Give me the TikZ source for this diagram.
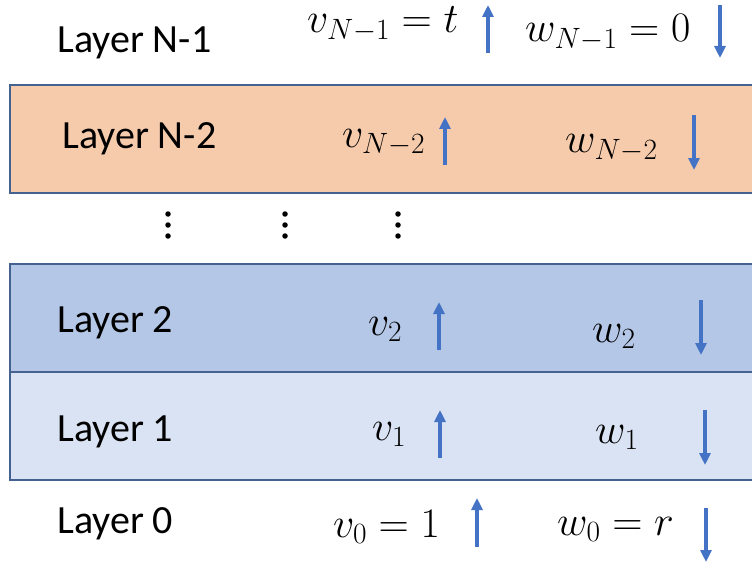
\documentclass[tikz,border=0pt]{standalone}
\usepackage{fix-cm}
\usepackage[no-math]{fontspec}
\setmainfont{Carlito}
\usetikzlibrary{arrows.meta}
\definecolor{boxline}{HTML}{44618F}
\definecolor{orangefill}{HTML}{F6CBAC}
\definecolor{bluefill}{HTML}{B4C7E7}
\definecolor{lightfill}{HTML}{DAE3F3}
\definecolor{arrowblue}{HTML}{4472C4}
\tikzset{
  layerbox/.style={draw=boxline, line width=2pt},
  lbl/.style={inner sep=0pt, anchor=base west, font=\fontsize{40}{48}\selectfont},
  mth/.style={inner sep=0pt, anchor=base west, font=\fontsize{42}{50}\selectfont},
  flow/.style={draw=arrowblue, line width=3.5pt, -{Triangle[width=11pt,length=12pt]}},
  dotmark/.style={fill=black, circle, inner sep=0pt, minimum size=5.5pt},
}
\begin{document}
\begin{tikzpicture}[x=1pt,y=-1pt]
\useasboundingbox (0,0) rectangle (752,567);
\clip (0,0) rectangle (752,567);
% boxes
\path[layerbox, fill=orangefill] (10,85) rectangle (770,193);
\path[layerbox, fill=bluefill] (10,264) rectangle (770,372);
\path[layerbox, fill=lightfill] (10,372) rectangle (770,480);
% layer labels
\node[lbl] (l5) at (57,53) {Layer N-1};
\node[lbl] (l4) at (62,148) {Layer N-2};
\node[lbl] (l2) at (57,332) {Layer 2};
\node[lbl] (l1) at (57,441) {Layer 1};
\node[lbl] (l0) at (57,533) {Layer 0};
% math labels
\node[mth] (v5) at (307,33) {$v_{N-1}=t$};
\node[mth] (w5) at (525,42) {$w_{N-1}=0$};
\node[mth] (v4) at (342,147) {$v_{N-2}$};
\node[mth] (w4) at (565,153) {$w_{N-2}$};
\node[mth] (v2) at (368,335) {$v_2$};
\node[mth] (w2) at (592,342) {$w_2$};
\node[mth] (v1) at (372,440) {$v_1$};
\node[mth] (w1) at (595,443) {$w_1$};
\node[mth] (v0) at (333,537) {$v_0=1$};
\node[mth] (w0) at (557,535) {$w_0=r$};
% dots
\foreach \x/\n in {168/a,285/b,398/c}{
  \node[dotmark] (d\n1) at (\x,214) {};
  \node[dotmark] (d\n2) at (\x,225) {};
  \node[dotmark] (d\n3) at (\x,236) {};
}
% arrows
\coordinate (ua5) at (488,53); \coordinate (ub5) at (488,5);
\coordinate (ua4) at (445,165); \coordinate (ub4) at (445,117);
\coordinate (ua2) at (439,350); \coordinate (ub2) at (439,302);
\coordinate (ua1) at (440,458); \coordinate (ub1) at (440,410);
\coordinate (ua0) at (477,547); \coordinate (ub0) at (477,498);
\coordinate (da5) at (720,5); \coordinate (db5) at (720,58);
\coordinate (da4) at (694,115); \coordinate (db4) at (694,170);
\coordinate (da2) at (701,300); \coordinate (db2) at (701,355);
\coordinate (da1) at (705,410); \coordinate (db1) at (705,465);
\coordinate (da0) at (706,508); \coordinate (db0) at (706,562);
\foreach \i in {5,4,2,1,0}{
  \draw[flow] (ua\i) -- (ub\i);
  \draw[flow] (da\i) -- (db\i);
}
\end{tikzpicture}
\end{document}
